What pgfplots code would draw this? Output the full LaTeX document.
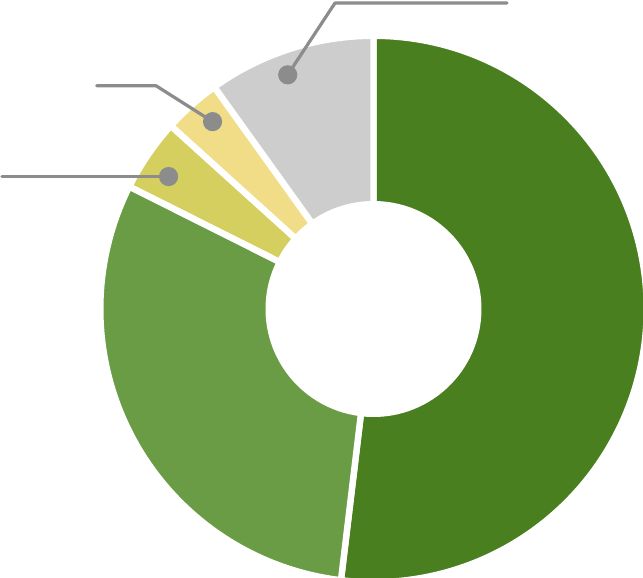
\documentclass[border=0pt]{standalone}
\usepackage{pgfplots}
\pgfplotsset{compat=1.18}
\definecolor{dkgreen}{HTML}{4A7F20}
\definecolor{ltgreen}{HTML}{6A9C45}
\definecolor{olive}{HTML}{D5CF5F}
\definecolor{paleyel}{HTML}{F1DD88}
\definecolor{lgray}{HTML}{CDCDCD}
\definecolor{leadgray}{HTML}{8C8C8C}
\begin{document}
\begin{tikzpicture}[leader/.style={leadgray, line width=1.6pt, line cap=round, line join=round}]
\begin{axis}[
    width=321.5pt, height=289pt, scale only axis,
    xmin=-1.3833, xmax=0.99815,
    ymin=-0.9963, ymax=1.14444,
    hide axis, clip=false
  ]
  \coordinate (bl) at (axis cs:-1.3833,-0.9963);
  \coordinate (tr) at (axis cs:0.99815,1.14444);
  % donut slices, clockwise from 12 o'clock
  % percent / colour / label-dot angle shift / label-dot radius (pt)
  \def\cum{0}
  \foreach \v/\c/\da/\dr in {51.9/dkgreen/0/123,30.5/ltgreen/0/123,4.3/olive/1.5/122,3.4/paleyel/-1.1/123.5,9.9/lgray/2.3/124.7}{
    \pgfmathsetmacro\a{90-3.6*\cum}
    \pgfmathsetmacro\b{90-3.6*(\cum+\v)}
    \pgfmathsetmacro\m{(\a+\b)/2+\da}
    \edef\temp{\noexpand\filldraw[fill=\c, draw=white, line width=3.2pt, line join=round]
      ([shift={(\a:136.6pt)}]axis cs:0,0) arc[start angle=\a, end angle=\b, radius=136.6pt]
      -- ([shift={(\b:52.4pt)}]axis cs:0,0) arc[start angle=\b, end angle=\a, radius=52.4pt] -- cycle;
      \noexpand\coordinate (m\c) at ([shift={(\m:\dr pt)}]axis cs:0,0);}
    \temp
    \pgfmathsetmacro\n{\cum+\v}
    \xdef\cum{\n}
  }
  % leader lines
  \coordinate (oe) at (axis cs:-1.3759,0);
  \draw[leader] (mlgray) -- (axis cs:-0.1426,1.1333) -- (axis cs:0.4944,1.1333);
  \draw[leader] (mpaleyel) -- (axis cs:-0.8056,0.8270) -- (axis cs:-1.0252,0.8270);
  \draw[leader] (molive) -- (oe |- molive);
  \fill[leadgray] (mlgray) circle[radius=4.8pt];
  \fill[leadgray] (mpaleyel) circle[radius=4.8pt];
  \fill[leadgray] (molive) circle[radius=4.8pt];
\end{axis}
\pgfresetboundingbox
\path (bl) rectangle (tr);
\end{tikzpicture}
\end{document}
